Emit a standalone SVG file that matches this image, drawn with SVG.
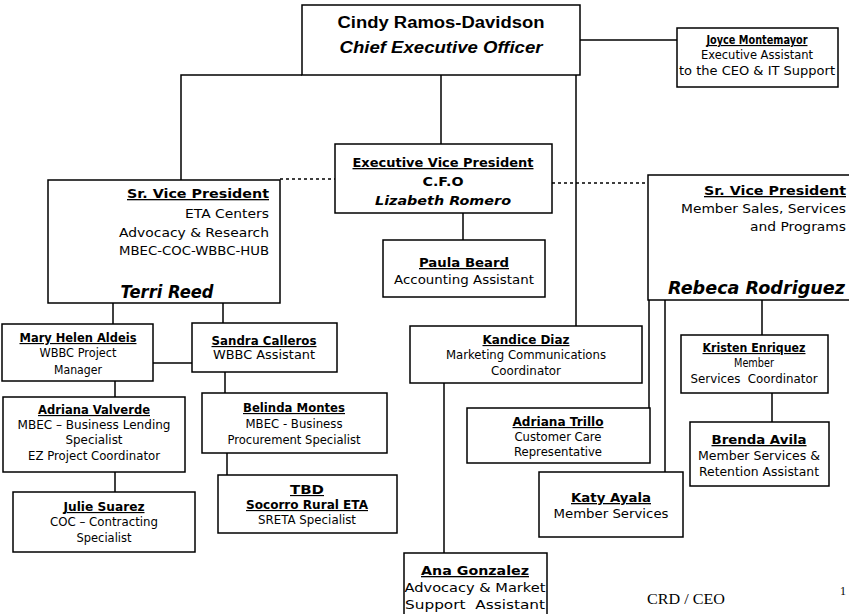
<svg xmlns="http://www.w3.org/2000/svg" width="849" height="614" viewBox="0 0 849 614">
<style>
.box{fill:#fff;stroke:#000;stroke-width:1.5}
.ln{fill:none;stroke:#000;stroke-width:1.5}
.dot{fill:none;stroke:#000;stroke-width:1.3;stroke-dasharray:3 3}
text{font-family:"DejaVu Sans","Liberation Sans",sans-serif;fill:#000}
.c{text-anchor:middle}
.r{text-anchor:end}
.n{font-weight:bold;text-decoration:underline}
.s{font-size:11.5px}
.m{font-size:13px}
.big{font-family:"Liberation Sans",Arial,sans-serif;font-weight:bold;font-size:16px}
.bi{font-weight:bold;font-style:italic}
.serif{font-family:"Liberation Serif","Times New Roman",serif}
</style>
<rect width="849" height="614" fill="#fff"/>
<g id="connectors">
<path class="ln" d="M302 75 H181 V180"/>
<path class="ln" d="M580 40 H677"/>
<path class="ln" d="M441 75 V144"/>
<path class="ln" d="M576 75 V326"/>
<path class="dot" d="M280 179 H335"/>
<path class="dot" d="M552 183 H648"/>
<path class="ln" d="M463 213 V240"/>
<path class="ln" d="M113 303 V324"/>
<path class="ln" d="M223 303 V323"/>
<path class="ln" d="M153 363 H192"/>
<path class="ln" d="M115 381 V397"/>
<path class="ln" d="M225 372 V393"/>
<path class="ln" d="M115 472 V492"/>
<path class="ln" d="M227 453 V475"/>
<path class="ln" d="M444 383 V553"/>
<path class="ln" d="M649 300 V408"/>
<path class="ln" d="M665 300 V472"/>
<path class="ln" d="M762 300 V335"/>
<path class="ln" d="M772 393 V422"/>
</g>
<g id="ceo">
<rect class="box" x="302" y="5" width="278" height="70"/>
<text class="big c" x="441" y="28" textLength="207" lengthAdjust="spacingAndGlyphs">Cindy Ramos-Davidson</text>
<text class="big c" x="441" y="53" font-style="italic" textLength="203" lengthAdjust="spacingAndGlyphs">Chief Executive Officer</text>
</g>
<g id="joyce">
<rect class="box" x="677" y="28" width="161" height="59"/>
<text class="c n s" x="757" y="44" textLength="101" lengthAdjust="spacingAndGlyphs">Joyce Montemayor</text>
<text class="c s" x="757" y="59" textLength="112" lengthAdjust="spacingAndGlyphs">Executive Assistant</text>
<text class="c s" x="757" y="75" textLength="156" lengthAdjust="spacingAndGlyphs">to the CEO &amp; IT Support</text>
</g>
<g id="evp">
<rect class="box" x="335" y="144" width="217" height="69"/>
<text class="c n m" x="443" y="167" textLength="181" lengthAdjust="spacingAndGlyphs">Executive Vice President</text>
<text class="c m" x="443" y="186" font-weight="bold" textLength="41" lengthAdjust="spacingAndGlyphs">C.F.O</text>
<text class="c m bi" x="443" y="205" textLength="136" lengthAdjust="spacingAndGlyphs">Lizabeth Romero</text>
</g>
<g id="paula">
<rect class="box" x="383" y="240" width="162" height="57"/>
<text class="c n m" x="464" y="267" textLength="90" lengthAdjust="spacingAndGlyphs">Paula Beard</text>
<text class="c m" x="464" y="284" textLength="140" lengthAdjust="spacingAndGlyphs">Accounting Assistant</text>
</g>
<g id="svp-left">
<rect class="box" x="48" y="180" width="232" height="123"/>
<text class="r n m" x="269" y="198" textLength="142" lengthAdjust="spacingAndGlyphs">Sr. Vice President</text>
<text class="r m" x="269" y="218" textLength="84" lengthAdjust="spacingAndGlyphs">ETA Centers</text>
<text class="r m" x="269" y="237" textLength="150" lengthAdjust="spacingAndGlyphs">Advocacy &amp; Research</text>
<text class="r m" x="269" y="255" textLength="150" lengthAdjust="spacingAndGlyphs">MBEC-COC-WBBC-HUB</text>
<text class="c bi" x="167" y="298" font-size="17px" textLength="93" lengthAdjust="spacingAndGlyphs">Terri Reed</text>
</g>
<g id="svp-right">
<rect class="box" x="648" y="175" width="212" height="125"/>
<text class="r n m" x="846" y="195" textLength="142" lengthAdjust="spacingAndGlyphs">Sr. Vice President</text>
<text class="r m" x="846" y="213" textLength="165" lengthAdjust="spacingAndGlyphs">Member Sales, Services</text>
<text class="r m" x="846" y="231" textLength="96" lengthAdjust="spacingAndGlyphs">and Programs</text>
<text class="r bi" x="845" y="294" font-size="17px" textLength="177" lengthAdjust="spacingAndGlyphs">Rebeca Rodriguez</text>
</g>
<g id="mary">
<rect class="box" x="2" y="324" width="151" height="57"/>
<text class="c n s" x="78" y="342" textLength="117" lengthAdjust="spacingAndGlyphs">Mary Helen Aldeis</text>
<text class="c s" x="78" y="357" textLength="77" lengthAdjust="spacingAndGlyphs">WBBC Project</text>
<text class="c s" x="78" y="374" textLength="48" lengthAdjust="spacingAndGlyphs">Manager</text>
</g>
<g id="sandra">
<rect class="box" x="192" y="323" width="145" height="49"/>
<text class="c n s" x="264" y="345" textLength="105" lengthAdjust="spacingAndGlyphs">Sandra Calleros</text>
<text class="c s" x="264" y="359" textLength="102" lengthAdjust="spacingAndGlyphs">WBBC Assistant</text>
</g>
<g id="adriana-valverde">
<rect class="box" x="3" y="397" width="182" height="75"/>
<text class="c n s" x="94" y="414" textLength="112" lengthAdjust="spacingAndGlyphs">Adriana Valverde</text>
<text class="c s" x="94" y="429" textLength="153" lengthAdjust="spacingAndGlyphs">MBEC – Business Lending</text>
<text class="c s" x="94" y="444" textLength="57" lengthAdjust="spacingAndGlyphs">Specialist</text>
<text class="c s" x="94" y="460" textLength="132" lengthAdjust="spacingAndGlyphs">EZ Project Coordinator</text>
</g>
<g id="belinda">
<rect class="box" x="202" y="393" width="185" height="60"/>
<text class="c n s" x="294" y="412" textLength="102" lengthAdjust="spacingAndGlyphs">Belinda Montes</text>
<text class="c s" x="294" y="428" textLength="97" lengthAdjust="spacingAndGlyphs">MBEC - Business</text>
<text class="c s" x="294" y="444" textLength="133" lengthAdjust="spacingAndGlyphs">Procurement Specialist</text>
</g>
<g id="julie">
<rect class="box" x="13" y="492" width="182" height="60"/>
<text class="c n s" x="104" y="511" textLength="81" lengthAdjust="spacingAndGlyphs">Julie Suarez</text>
<text class="c s" x="104" y="526" textLength="108" lengthAdjust="spacingAndGlyphs">COC – Contracting</text>
<text class="c s" x="104" y="542" textLength="55" lengthAdjust="spacingAndGlyphs">Specialist</text>
</g>
<g id="tbd">
<rect class="box" x="218" y="475" width="179" height="58"/>
<text class="c n s" x="307" y="494" textLength="34" lengthAdjust="spacingAndGlyphs">TBD</text>
<text class="c n s" x="307" y="509" textLength="122" lengthAdjust="spacingAndGlyphs">Socorro Rural ETA</text>
<text class="c s" x="307" y="524" textLength="98" lengthAdjust="spacingAndGlyphs">SRETA Specialist</text>
</g>
<g id="kandice">
<rect class="box" x="410" y="326" width="232" height="57"/>
<text class="c n s" x="526" y="344" textLength="87" lengthAdjust="spacingAndGlyphs">Kandice Diaz</text>
<text class="c s" x="526" y="359" textLength="160" lengthAdjust="spacingAndGlyphs">Marketing Communications</text>
<text class="c s" x="526" y="375" textLength="70" lengthAdjust="spacingAndGlyphs">Coordinator</text>
</g>
<g id="adriana-trillo">
<rect class="box" x="467" y="408" width="183" height="55"/>
<text class="c n s" x="558" y="426" textLength="91" lengthAdjust="spacingAndGlyphs">Adriana Trillo</text>
<text class="c s" x="558" y="441" textLength="87" lengthAdjust="spacingAndGlyphs">Customer Care</text>
<text class="c s" x="558" y="456" textLength="88" lengthAdjust="spacingAndGlyphs">Representative</text>
</g>
<g id="kristen">
<rect class="box" x="681" y="335" width="147" height="58"/>
<text class="c n s" x="754" y="352" textLength="103" lengthAdjust="spacingAndGlyphs">Kristen Enriquez</text>
<text class="c s" x="754" y="367" textLength="40" lengthAdjust="spacingAndGlyphs">Member</text>
<text class="c s" x="754" y="383" textLength="127" lengthAdjust="spacingAndGlyphs" xml:space="preserve">Services  Coordinator</text>
</g>
<g id="brenda">
<rect class="box" x="690" y="422" width="139" height="64"/>
<text class="c n m" x="759" y="444" textLength="95" lengthAdjust="spacingAndGlyphs">Brenda Avila</text>
<text class="c m" x="759" y="460" textLength="122" lengthAdjust="spacingAndGlyphs">Member Services &amp;</text>
<text class="c m" x="759" y="476" textLength="120" lengthAdjust="spacingAndGlyphs">Retention Assistant</text>
</g>
<g id="katy">
<rect class="box" x="539" y="472" width="144" height="65"/>
<text class="c n m" x="611" y="502" textLength="80" lengthAdjust="spacingAndGlyphs">Katy Ayala</text>
<text class="c m" x="611" y="518" textLength="115" lengthAdjust="spacingAndGlyphs">Member Services</text>
</g>
<g id="ana">
<rect class="box" x="404" y="553" width="143" height="70"/>
<text class="c n m" x="475" y="575" textLength="108" lengthAdjust="spacingAndGlyphs">Ana Gonzalez</text>
<text class="c m" x="475" y="592" textLength="141" lengthAdjust="spacingAndGlyphs">Advocacy &amp; Market</text>
<text class="c m" x="475" y="609" textLength="140" lengthAdjust="spacingAndGlyphs" xml:space="preserve">Support  Assistant</text>
</g>
<text class="serif c" x="686" y="604" font-size="15px" textLength="78" lengthAdjust="spacingAndGlyphs">CRD / CEO</text>
<text class="serif" x="840" y="595" font-size="12px">1</text>
</svg>
